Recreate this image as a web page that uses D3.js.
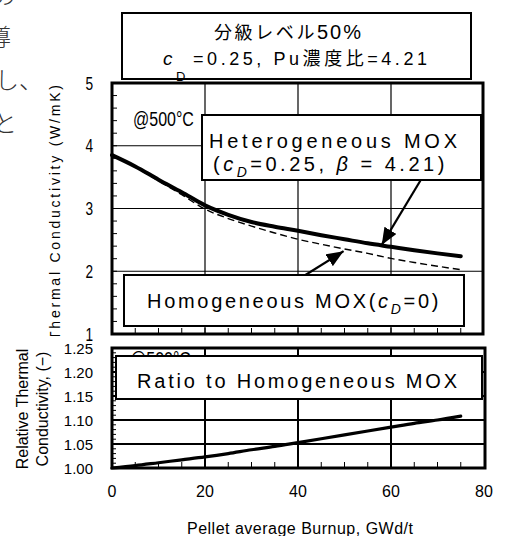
<!DOCTYPE html>
<html>
<head>
<meta charset="utf-8">
<script src="https://cdn.jsdelivr.net/npm/d3@7"></script>
<style>
  body { margin: 0; background: #fff; }
  svg { display: block; font-family: "Liberation Sans", Arial, "Noto Sans CJK JP", sans-serif; }
</style>
</head>
<body>
<div id="chart"></div>
<script>

// burnup (GWd/t) and the three curves
var burnup  = [0, 5, 10, 15, 20, 25, 30, 35, 40, 45, 50, 55, 60, 65, 70, 75];
var heteroK = [3.85, 3.67, 3.46, 3.26, 3.05, 2.90, 2.785, 2.71, 2.645, 2.575, 2.51, 2.445, 2.39, 2.335, 2.285, 2.24];
var homoK   = [3.85, 3.66, 3.44, 3.22, 2.99, 2.84, 2.72, 2.61, 2.51, 2.43, 2.355, 2.285, 2.205, 2.14, 2.08, 2.025];
var ratioK  = [1.000, 1.005, 1.011, 1.017, 1.023, 1.030, 1.038, 1.045, 1.053, 1.061, 1.069, 1.077, 1.085, 1.093, 1.100, 1.108];

var xTicks     = [0, 20, 40, 60, 80];
var upperTicks = [1, 2, 3, 4, 5];
var lowerTicks = [1.00, 1.05, 1.10, 1.15, 1.20, 1.25];

var W = 508, H = 536;
var svg = d3.select("#chart").append("svg")
  .attr("width", W).attr("height", H);

var x = d3.scaleLinear().domain([0, 80]).range([112, 484]);
var yTop = d3.scaleLinear().domain([1, 5]).range([334, 83]);
var yBot = d3.scaleLinear().domain([1, 1.25]).range([468, 348]);

// fragments of the surrounding page text on the left edge
var jp = svg.append("g").attr("font-family", "'Noto Sans CJK JP', sans-serif")
  .attr("font-size", 24).attr("fill", "#333").attr("font-weight", 300);
jp.append("text").attr("x", -8).attr("y", 4).text("の");
jp.append("text").attr("x", -13).attr("y", 46).text("導");
jp.append("text").attr("x", -5).attr("y", 89).text("し");
jp.append("text").attr("x", 19).attr("y", 89).text("、");
jp.append("text").attr("x", -7).attr("y", 132).text("と");

var defs = svg.append("defs");
var arrow = defs.append("marker")
  .attr("id", "arr").attr("markerUnits", "userSpaceOnUse")
  .attr("markerWidth", 18).attr("markerHeight", 14)
  .attr("refX", 17).attr("refY", 7).attr("orient", "auto");
arrow.append("path").attr("d", "M0,0 L17,7 L0,14 Z").attr("fill", "#000");
defs.append("clipPath").attr("id", "cl").append("rect")
  .attr("x", 0).attr("y", 0).attr("width", 110).attr("height", 336);

// ---------- upper panel ----------
var up = svg.append("g");
up.append("rect").attr("x", x(0)).attr("y", yTop(5))
  .attr("width", x(80) - x(0)).attr("height", yTop(1) - yTop(5)).attr("fill", "#fff");

up.selectAll(".gy").data([2, 3, 4]).join("line")
  .attr("x1", x(0)).attr("x2", x(80)).attr("y1", d => yTop(d)).attr("y2", d => yTop(d))
  .attr("stroke", "#000").attr("stroke-width", 1.2);
up.selectAll(".gx").data([20, 40, 60]).join("line")
  .attr("x1", d => x(d)).attr("x2", d => x(d)).attr("y1", yTop(5)).attr("y2", yTop(1))
  .attr("stroke", "#000").attr("stroke-width", 1.2);

up.selectAll(".my").data(d3.range(1, 5.01, 0.2)).join("line")
  .attr("x1", x(0)).attr("x2", x(0) + 5).attr("y1", d => yTop(d)).attr("y2", d => yTop(d))
  .attr("stroke", "#000").attr("stroke-width", 1);
up.selectAll(".mx").data(d3.range(0, 80, 5)).join("line")
  .attr("x1", d => x(d)).attr("x2", d => x(d)).attr("y1", yTop(1)).attr("y2", yTop(1) - 6)
  .attr("stroke", "#000").attr("stroke-width", 1);

up.append("text").attr("transform", "translate(133,126) scale(0.8,1)")
  .attr("font-size", 20).text("@500°C");

var lineTop = function (vals) {
  return d3.line().curve(d3.curveMonotoneX)
    .x((d, i) => x(burnup[i])).y(d => yTop(d))(vals);
};
up.append("path").attr("d", lineTop(homoK)).attr("fill", "none")
  .attr("stroke", "#000").attr("stroke-width", 1.4).attr("stroke-dasharray", "7,4");
up.append("path").attr("d", lineTop(heteroK)).attr("fill", "none")
  .attr("stroke", "#000").attr("stroke-width", 4).attr("stroke-linecap", "round");

// heterogeneous label box
up.append("rect").attr("x", 202).attr("y", 115).attr("width", 279).attr("height", 65)
  .attr("fill", "#fff").attr("stroke", "#000").attr("stroke-width", 2);
up.append("text").attr("x", 209).attr("y", 148).attr("font-size", 20)
  .attr("textLength", 248).attr("lengthAdjust", "spacing").text("Heterogeneous MOX");
var t2 = up.append("text").attr("x", 213).attr("y", 171).attr("font-size", 20)
  .attr("letter-spacing", 3.5);
t2.append("tspan").text("(");
t2.append("tspan").attr("font-style", "italic").text("c");
t2.append("tspan").attr("font-style", "italic").attr("font-size", 14).attr("dy", 6).text("D");
t2.append("tspan").attr("dy", -6).text("=0.25, ");
t2.append("tspan").attr("font-style", "italic").text("β");
t2.append("tspan").text(" = 4.21)");

// homogeneous label box
up.append("rect").attr("x", 124).attr("y", 275).attr("width", 340).attr("height", 51)
  .attr("fill", "#fff").attr("stroke", "#000").attr("stroke-width", 2);
var t3 = up.append("text").attr("x", 147).attr("y", 308).attr("font-size", 20)
  .attr("letter-spacing", 2.7);
t3.append("tspan").text("Homogeneous MOX(");
t3.append("tspan").attr("font-style", "italic").text("c");
t3.append("tspan").attr("font-style", "italic").attr("font-size", 14).attr("dy", 6).text("D");
t3.append("tspan").attr("dy", -6).text("=0)");

// arrows to the curves
up.append("line").attr("x1", x(66.4)).attr("y1", yTop(3.454)).attr("x2", x(58)).attr("y2", yTop(2.42))
  .attr("stroke", "#000").attr("stroke-width", 2.2).attr("marker-end", "url(#arr)");
up.append("line").attr("x1", x(41.6)).attr("y1", yTop(1.94)).attr("x2", x(49.8)).attr("y2", yTop(2.32))
  .attr("stroke", "#000").attr("stroke-width", 2.2).attr("marker-end", "url(#arr)");

up.append("rect").attr("x", x(0)).attr("y", yTop(5))
  .attr("width", x(80) - x(0) - 1).attr("height", yTop(1) - yTop(5))
  .attr("fill", "none").attr("stroke", "#000").attr("stroke-width", 3);

up.selectAll(".ly").data(upperTicks).join("text")
  .attr("transform", d => "translate(93," + (yTop(d) + 6.5) + ") scale(0.72,1)")
  .attr("text-anchor", "end").attr("font-size", 19).text(d => d);

// title box
svg.append("text").attr("x", 176).attr("y", 81).attr("font-size", 13).text("D");
svg.append("rect").attr("x", 122).attr("y", 13).attr("width", 349).attr("height", 66)
  .attr("fill", "none").attr("stroke", "#000").attr("stroke-width", 2);
var t1 = svg.append("text").attr("x", 214).attr("y", 39);
t1.append("tspan").attr("font-size", 18).attr("letter-spacing", 2.6).text("分級レベル");
t1.append("tspan").attr("font-size", 20).attr("letter-spacing", 2).text("50%");
svg.append("text").attr("x", 163).attr("y", 65).attr("font-size", 19)
  .attr("font-style", "italic").text("c");
svg.append("text").attr("x", 193).attr("y", 65).attr("font-size", 18)
  .attr("textLength", 234).attr("lengthAdjust", "spacing").text("=0.25, Pu濃度比=4.21");

// upper y title, its bottom is hidden under the lower panel
svg.append("g").attr("clip-path", "url(#cl)").append("text")
  .attr("transform", "translate(60,340) rotate(-90)")
  .attr("font-size", 14).attr("textLength", 255).attr("lengthAdjust", "spacing")
  .text("Thermal Conductivity (W/mK)");

// ---------- lower panel ----------
var lo = svg.append("g");
lo.append("rect").attr("x", x(0)).attr("y", yBot(1.25))
  .attr("width", x(80) - x(0)).attr("height", yBot(1) - yBot(1.25)).attr("fill", "#fff");

lo.selectAll(".gy").data([1.05, 1.10, 1.15, 1.20]).join("line")
  .attr("x1", x(0)).attr("x2", x(80)).attr("y1", d => yBot(d)).attr("y2", d => yBot(d))
  .attr("stroke", "#000").attr("stroke-width", 2);
lo.selectAll(".gx").data([20, 40, 60]).join("line")
  .attr("x1", d => x(d)).attr("x2", d => x(d)).attr("y1", yBot(1.25)).attr("y2", yBot(1))
  .attr("stroke", "#000").attr("stroke-width", 2);

lo.selectAll(".my").data(d3.range(100, 126, 1)).join("line")
  .attr("x1", x(0)).attr("x2", d => x(0) + (d % 5 === 0 ? 7 : 4))
  .attr("y1", d => yBot(d / 100)).attr("y2", d => yBot(d / 100))
  .attr("stroke", "#000").attr("stroke-width", 1);
lo.selectAll(".mx").data(d3.range(0, 80, 5)).join("line")
  .attr("x1", d => x(d)).attr("x2", d => x(d)).attr("y1", yBot(1)).attr("y2", yBot(1) - 6)
  .attr("stroke", "#000").attr("stroke-width", 1);

lo.append("text").attr("transform", "translate(130,366) scale(0.8,1)")
  .attr("font-size", 20).text("@500°C");

lo.append("path")
  .attr("d", d3.line().curve(d3.curveMonotoneX).x((d, i) => x(burnup[i])).y(d => yBot(d))(ratioK))
  .attr("fill", "none").attr("stroke", "#000").attr("stroke-width", 3.2).attr("stroke-linecap", "round");

lo.append("rect").attr("x", 116).attr("y", 356).attr("width", 366).attr("height", 43)
  .attr("fill", "#fff").attr("stroke", "#000").attr("stroke-width", 2);
lo.append("text").attr("x", 137).attr("y", 388).attr("font-size", 20)
  .attr("textLength", 320).attr("lengthAdjust", "spacing").text("Ratio to Homogeneous MOX");

lo.append("rect").attr("x", x(0)).attr("y", yBot(1.25))
  .attr("width", x(80) - x(0) + 1).attr("height", yBot(1) - yBot(1.25))
  .attr("fill", "none").attr("stroke", "#000").attr("stroke-width", 3);

lo.selectAll(".ly").data(lowerTicks).join("text")
  .attr("x", 93).attr("y", d => yBot(d) + 6).attr("text-anchor", "end")
  .attr("font-size", 15).text(d => d3.format(".2f")(d));

lo.selectAll(".lx").data(xTicks).join("text")
  .attr("x", d => x(d)).attr("y", 497).attr("text-anchor", "middle")
  .attr("font-size", 16).text(d => d);

var rt = lo.append("text").attr("transform", "translate(0,409) rotate(-90)")
  .attr("text-anchor", "middle").attr("font-size", 16);
rt.append("tspan").attr("x", 0).attr("y", 28).text("Relative Thermal");
rt.append("tspan").attr("x", 0).attr("y", 48).text("Conductivity, (−)");

svg.append("text").attr("x", 187).attr("y", 534).attr("font-size", 16)
  .attr("textLength", 226).attr("lengthAdjust", "spacing")
  .text("Pellet average Burnup, GWd/t");

</script>
</body>
</html>
